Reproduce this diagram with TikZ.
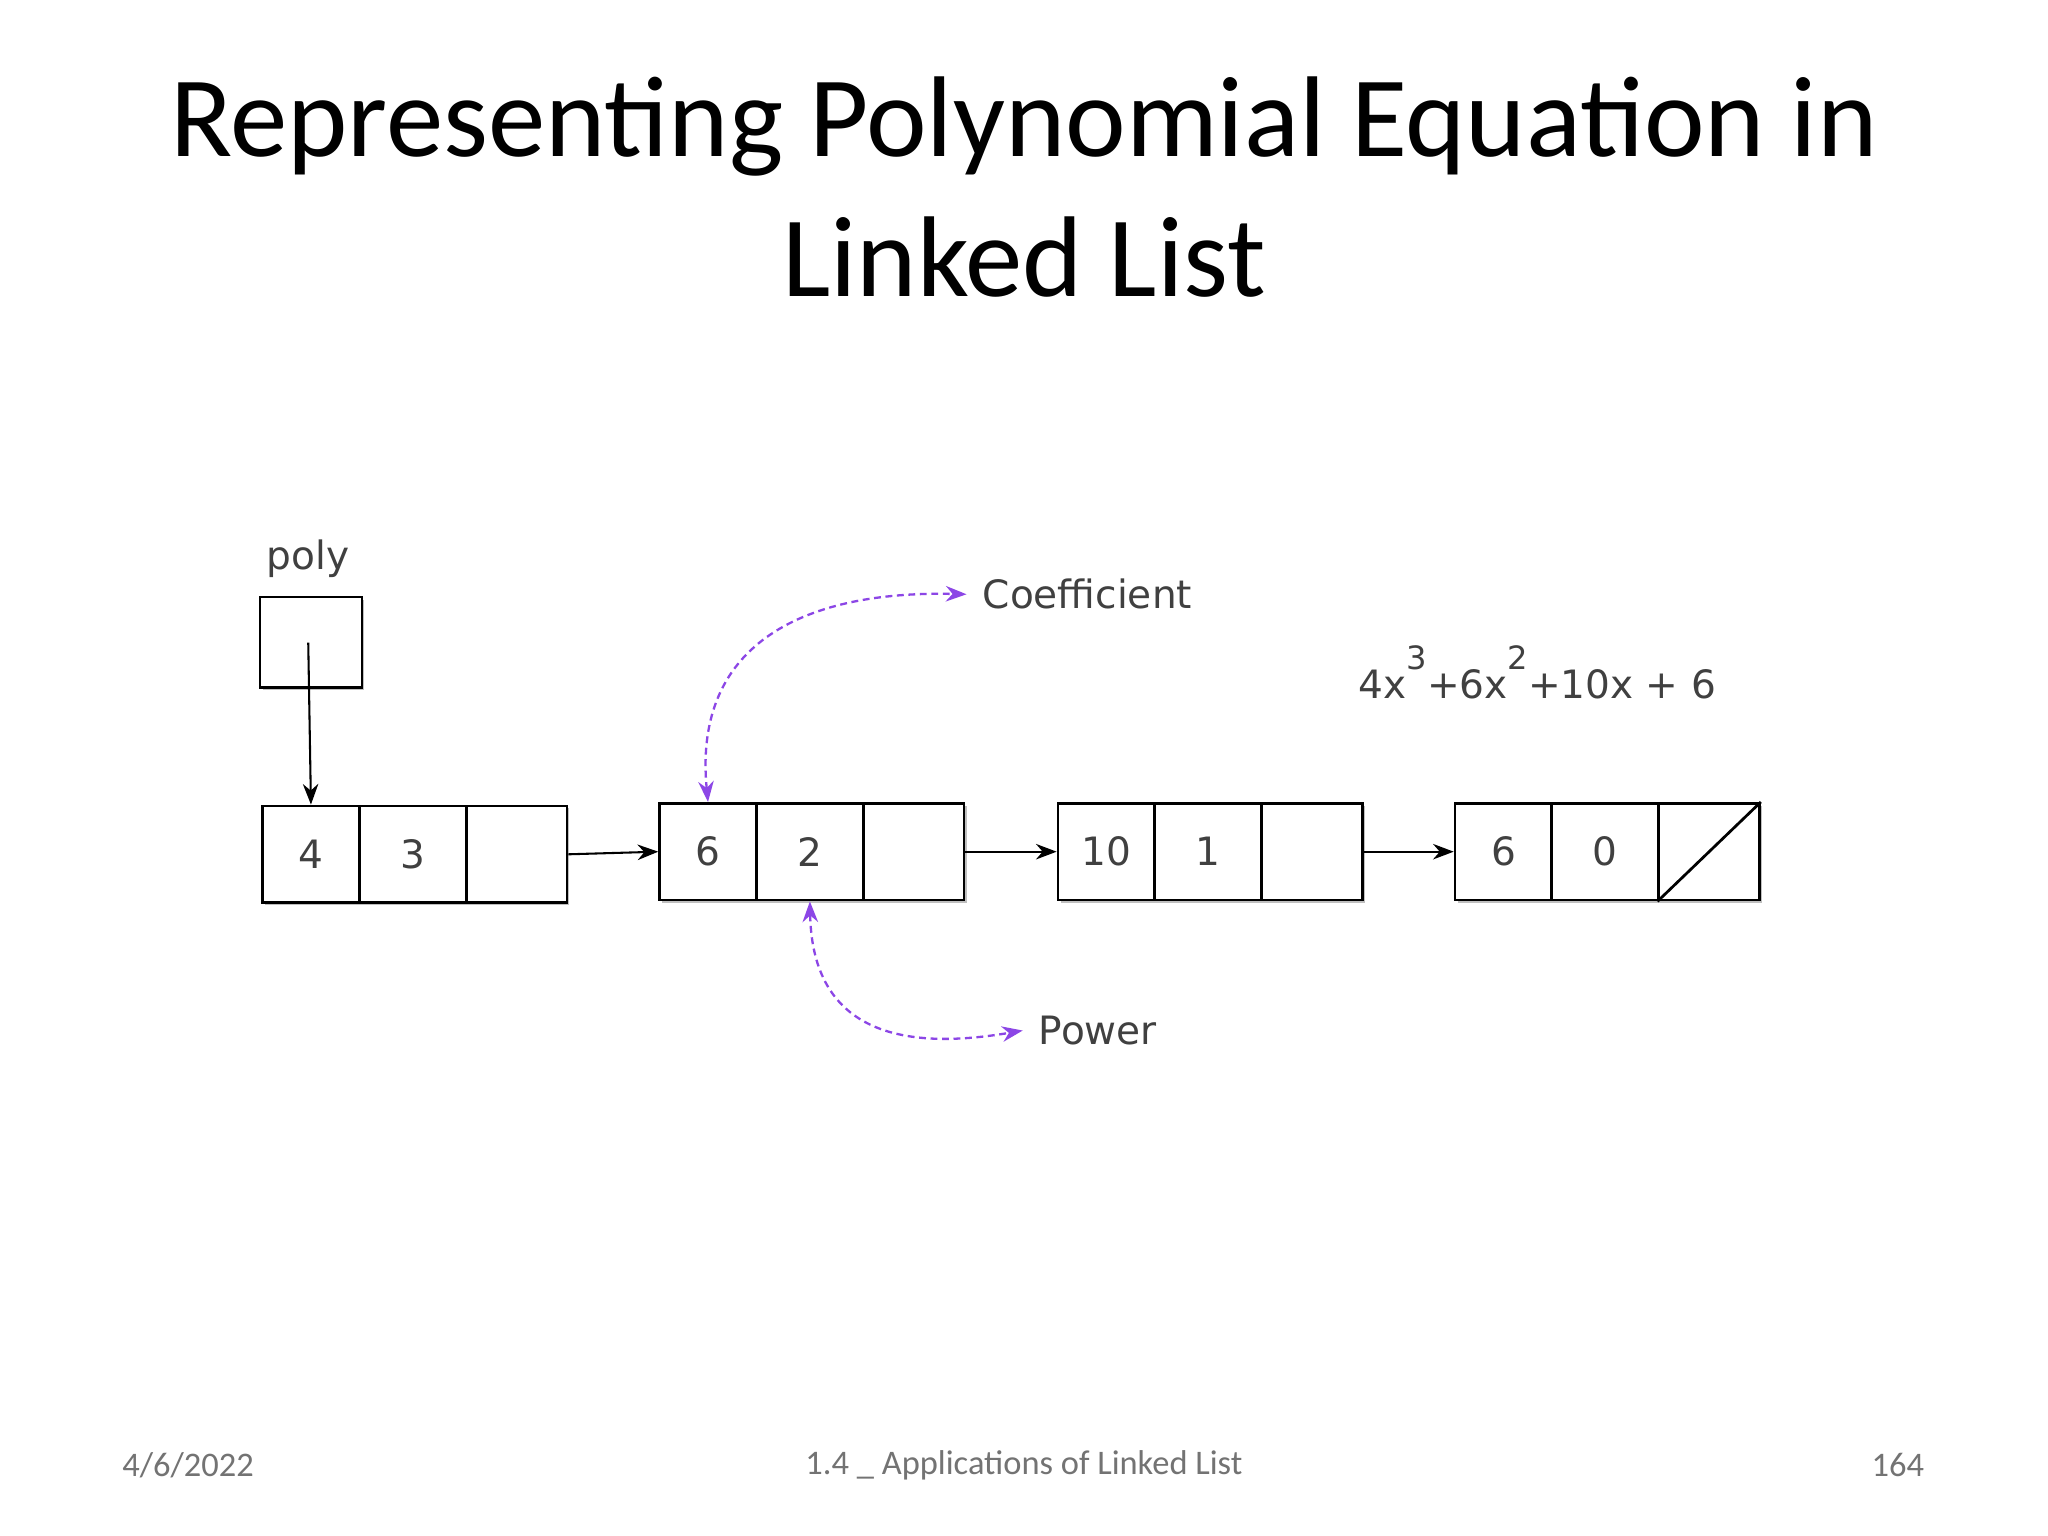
\documentclass[tikz,border=0pt]{standalone}
\usepackage{fontspec}
\setmainfont{Carlito}
\newfontfamily\dv{DejaVu Sans}
\usetikzlibrary{arrows.meta}
\definecolor{pur}{RGB}{140,70,230}
\tikzset{
  cell/.style={draw,line width=0.6pt,minimum height=0.74cm,inner sep=0pt,fill=white},
  lbl/.style={font=\dv\fontsize{8.5}{10}\selectfont,text=black!75},
  arr/.style={-{Stealth[length=4.5pt]},line width=0.45pt},
  parr/.style={{Stealth[length=4.5pt]}-{Stealth[length=4.5pt]},pur,dash pattern=on 1.5pt off 1pt,line width=0.5pt},
  foot/.style={font=\fontsize{7.5}{9}\selectfont,text=black!55}
}
\newcommand{\lnode}[5]{%
  \fill[black!25] (#2+3,#3+3) rectangle (#2+233+3,#3+74+3);
  \node[cell,minimum width=0.74cm,anchor=north west] (#1a) at (#2,#3) {};
  \node[cell,minimum width=0.82cm,anchor=north west] (#1b) at (#2+74,#3) {};
  \node[cell,minimum width=0.77cm,anchor=north west] (#1c) at (#2+156,#3) {};
  \node[lbl] at (#1a) {#4};
  \node[lbl] at (#1b) {#5};
}
\begin{document}
\begin{tikzpicture}[x=0.01cm,y=-0.01cm]
\useasboundingbox[fill=white] (0,0) rectangle (1568,1176);
\node[font=\fontsize{25}{30}\selectfont] (t1) at (784,97) {Representing Polynomial Equation in};
\node[font=\fontsize{25}{30}\selectfont] (t2) at (784,197) {Linked List};
\node[lbl] (poly) at (236,428) {poly};
\fill[black!25] (201,459) rectangle (279,528);
\node[cell,minimum width=0.78cm,minimum height=0.69cm,anchor=north west] (pb) at (198,456) {};
\coordinate (pc) at (236,492);
\lnode{n1}{200}{616}{4}{3}
\lnode{n2}{504}{614}{6}{2}
\lnode{n3}{809}{614}{10}{1}
\lnode{n4}{1113}{614}{6}{0}
\draw[line width=0.6pt] (n4c.south west) -- (n4c.north east);
\draw[arr] (pc) -- (n1a.north);
\draw[arr] (n1c.east) -- (n2a.west);
\draw[arr] (n2c.east) -- (n3a.west);
\draw[arr] (n3c.east) -- (n4a.west);
\node[lbl,anchor=west] (co) at (740,455) {Coefficient};
\node[lbl,anchor=west] (pw) at (783,789) {Power};
\draw[parr] (n2a.north) .. controls (530,490) and (620,452) .. (co.west);
\draw[parr] (n2b.south) .. controls (622,790) and (690,805) .. (pw.west);
\node[lbl,anchor=base] (eq) at (1177,535) {4x\raisebox{0.75em}{\fontsize{7}{7}\selectfont 3}+6x\raisebox{0.75em}{\fontsize{7}{7}\selectfont 2}+10x + 6};
\node[foot] (d) at (144,1122) {4/6/2022};
\node[foot] (f) at (784,1122) {1.4 \_ Applications of Linked List};
\node[foot] (p) at (1453,1122) {164};
\end{tikzpicture}
\end{document}
